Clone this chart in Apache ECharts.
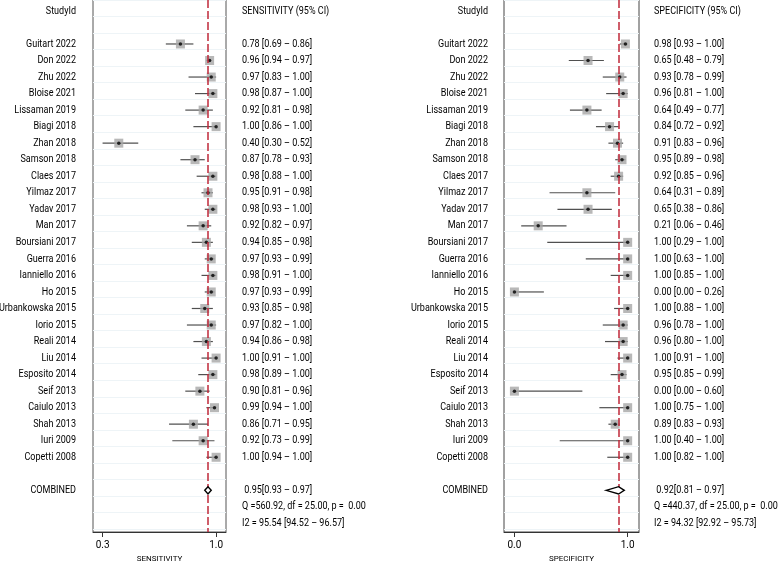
<!DOCTYPE html>
<html>
<head>
<meta charset="utf-8">
<script src="https://cdn.jsdelivr.net/npm/echarts@6/dist/echarts.min.js"></script>
<style>
  html, body { margin: 0; padding: 0; background: #fff; }
  #main { width: 778px; height: 568px; }
</style>
</head>
<body>
<div id="main"></div>
<script>
// study labels, top to bottom
var studies = ['Guitart 2022', 'Don 2022', 'Zhu 2022', 'Bloise 2021', 'Lissaman 2019', 'Biagi 2018',
    'Zhan 2018', 'Samson 2018', 'Claes 2017', 'Yilmaz 2017', 'Yadav 2017', 'Man 2017',
    'Boursiani 2017', 'Guerra 2016', 'Ianniello 2016', 'Ho 2015', 'Urbankowska 2015', 'Iorio 2015',
    'Reali 2014', 'Liu 2014', 'Esposito 2014', 'Seif 2013', 'Caiulo 2013', 'Shah 2013',
    'Iuri 2009', 'Copetti 2008'];

var sensEst = [0.78, 0.96, 0.97, 0.98, 0.92, 1.00, 0.40, 0.87, 0.98, 0.95, 0.98, 0.92, 0.94,
    0.97, 0.98, 0.97, 0.93, 0.97, 0.94, 1.00, 0.98, 0.90, 0.99, 0.86, 0.92, 1.00];
var sensLo = [0.69, 0.94, 0.83, 0.87, 0.81, 0.86, 0.30, 0.78, 0.88, 0.91, 0.93, 0.82, 0.85,
    0.93, 0.91, 0.93, 0.85, 0.82, 0.86, 0.91, 0.89, 0.81, 0.94, 0.71, 0.73, 0.94];
var sensHi = [0.86, 0.97, 1.00, 1.00, 0.98, 1.00, 0.52, 0.93, 1.00, 0.98, 1.00, 0.97, 0.98,
    0.99, 1.00, 0.99, 0.98, 1.00, 0.98, 1.00, 1.00, 0.96, 1.00, 0.95, 0.99, 1.00];

var specEst = [0.98, 0.65, 0.93, 0.96, 0.64, 0.84, 0.91, 0.95, 0.92, 0.64, 0.65, 0.21, 1.00,
    1.00, 1.00, 0.00, 1.00, 0.96, 0.96, 1.00, 0.95, 0.00, 1.00, 0.89, 1.00, 1.00];
var specLo = [0.93, 0.48, 0.78, 0.81, 0.49, 0.72, 0.83, 0.89, 0.85, 0.31, 0.38, 0.06, 0.29,
    0.63, 0.85, 0.00, 0.88, 0.78, 0.80, 0.91, 0.85, 0.00, 0.75, 0.83, 0.40, 0.82];
var specHi = [1.00, 0.79, 0.99, 1.00, 0.77, 0.92, 0.96, 0.98, 0.96, 0.89, 0.86, 0.46, 1.00,
    1.00, 1.00, 0.26, 1.00, 1.00, 1.00, 1.00, 0.99, 0.60, 1.00, 0.93, 1.00, 1.00];

// pooled estimate [est, lo, hi]
var sensPooled = [0.95, 0.93, 0.97];
var specPooled = [0.92, 0.81, 0.97];
var sensStats = ['Q =560.92, df = 25.00, p =  0.00', 'I2 = 95.54 [94.52 \u2013 96.57]'];
var specStats = ['Q =440.37, df = 25.00, p =  0.00', 'I2 = 94.32 [92.92 \u2013 95.73]'];

var sensTicks = [0.3, 1.0];
var specTicks = [0.0, 1.0];

var FONT = "Roboto, sans-serif";
var SQUEEZE = 0.86;   // the original face is a narrow one
var FIRST_ROW = 2, COMBINED_ROW = 29;

function fmt(v) { return v.toFixed(2); }

function panelSeries(idx, est, lo, hi, pooled) {
    var ci = est.map(function (e, i) { return [lo[i], hi[i], FIRST_ROW + i]; });
    var pts = est.map(function (e, i) { return [e, FIRST_ROW + i]; });
    return [
        {
            type: 'custom', xAxisIndex: idx, yAxisIndex: idx, data: ci, z: 2,
            renderItem: function (params, api) {
                var a = api.coord([api.value(0), api.value(2)]);
                var b = api.coord([api.value(1), api.value(2)]);
                return { type: 'line', shape: { x1: a[0], y1: a[1], x2: b[0], y2: b[1] },
                    style: { stroke: '#505050', lineWidth: 1.2 } };
            }
        },
        {
            type: 'scatter', xAxisIndex: idx, yAxisIndex: idx, data: pts, z: 3,
            symbol: 'rect', symbolSize: 9, itemStyle: { color: '#a6a6a6' }, silent: true
        },
        {
            type: 'scatter', xAxisIndex: idx, yAxisIndex: idx, data: pts, z: 4,
            symbol: 'circle', symbolSize: 3.5, itemStyle: { color: '#000' }, silent: true,
            markLine: {
                silent: true, symbol: 'none', label: { show: false },
                lineStyle: { color: '#c0283a', type: [8, 3], width: 1.5 },
                data: [{ xAxis: pooled[0] }]
            }
        },
        {
            type: 'custom', xAxisIndex: idx, yAxisIndex: idx, data: [[pooled[0], pooled[1], pooled[2], COMBINED_ROW]], z: 5,
            renderItem: function (params, api) {
                var y = api.value(3), h = 0.22;
                var p = [
                    api.coord([api.value(1), y]), api.coord([api.value(0), y - h]),
                    api.coord([api.value(2), y]), api.coord([api.value(0), y + h])
                ];
                return { type: 'polygon', shape: { points: p },
                    style: { fill: '#fff', stroke: '#000', lineWidth: 1.4 } };
            }
        }
    ];
}

function xAxisOf(idx, min, max, ticks, name) {
    return {
        type: 'value', gridIndex: idx, min: min, max: max,
        name: name, nameLocation: 'middle', nameGap: 23,
        nameTextStyle: { fontSize: 8, color: '#000', fontFamily: FONT },
        axisLine: { show: true, onZero: false, lineStyle: { color: '#333', width: 1 } },
        axisTick: { show: true, length: 5, customValues: ticks, lineStyle: { color: '#333' } },
        axisLabel: { customValues: ticks, fontSize: 10, color: '#000', fontFamily: FONT, margin: 8,
            formatter: function (v) { return v.toFixed(1); } },
        splitLine: { show: false }
    };
}

function yAxisOf(idx) {
    return {
        type: 'value', gridIndex: idx, inverse: true, min: -0.66, max: 31.52,
        interval: 1,
        axisLine: { show: false }, axisTick: { show: false }, axisLabel: { show: false },
        splitLine: { show: true, lineStyle: { color: '#eef4f7', width: 1 } }
    };
}

var chart = echarts.init(document.getElementById('main'));
var option = {
    animation: false,
    grid: [
        { left: 93, right: 552, top: -2, bottom: 29, show: true, borderColor: '#555', borderWidth: 1 },
        { left: 504, right: 139, top: -2, bottom: 29, show: true, borderColor: '#444', borderWidth: 1 }
    ],
    xAxis: [
        xAxisOf(0, 0.241, 1.061, sensTicks, 'SENSITIVITY'),
        xAxisOf(1, -0.092, 1.10, specTicks, 'SPECIFICITY')
    ],
    yAxis: [yAxisOf(0), yAxisOf(1)],
    series: panelSeries(0, sensEst, sensLo, sensHi, sensPooled)
        .concat(panelSeries(1, specEst, specLo, specHi, specPooled))
};
chart.setOption(option);

// text columns beside each panel
function rowY(row) { return chart.convertToPixel({ yAxisIndex: 0 }, row); }
function txt(x, row, s, align) {
    return { type: 'text', x: x, y: rowY(row), scaleX: SQUEEZE,
        style: { text: s, fill: '#000', fontSize: 10.5, fontFamily: FONT,
            align: align, verticalAlign: 'middle' } };
}
function columns(nameX, valX, header, est, lo, hi, pooled, stats) {
    var els = [txt(nameX, 0, 'StudyId', 'right'), txt(valX, 0, header, 'left')];
    studies.forEach(function (s, i) {
        els.push(txt(nameX, FIRST_ROW + i, s, 'right'));
        els.push(txt(valX, FIRST_ROW + i, fmt(est[i]) + ' [' + fmt(lo[i]) + ' \u2013 ' + fmt(hi[i]) + ']', 'left'));
    });
    els.push(txt(nameX, COMBINED_ROW, 'COMBINED', 'right'));
    els.push(txt(valX, COMBINED_ROW, ' ' + fmt(pooled[0]) + '[' + fmt(pooled[1]) + ' \u2013 ' + fmt(pooled[2]) + ']', 'left'));
    els.push(txt(valX, COMBINED_ROW + 1, stats[0], 'left'));
    els.push(txt(valX, COMBINED_ROW + 2, stats[1], 'left'));
    return els;
}
chart.setOption({
    graphic: columns(76, 242, 'SENSITIVITY (95% CI)', sensEst, sensLo, sensHi, sensPooled, sensStats)
        .concat(columns(488, 654, 'SPECIFICITY (95% CI)', specEst, specLo, specHi, specPooled, specStats))
});
</script>
</body>
</html>
